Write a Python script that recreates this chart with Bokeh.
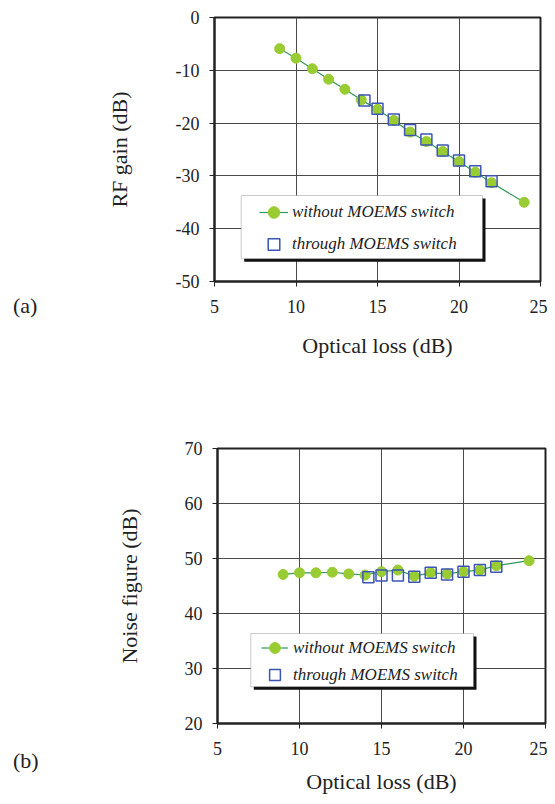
from bokeh.plotting import figure
from bokeh.layouts import column, row
from bokeh.models import (Range1d, SingleIntervalTicker, Legend, LegendItem,
                          BoxAnnotation, ColumnDataSource, Div,
                          CustomJSTickFormatter)
from bokeh.embed import file_html
from bokeh.resources import INLINE

# ---------------- data ----------------
x_without = [9, 10, 11, 12, 13, 14, 15, 16, 17, 18, 19, 20, 21, 22, 24]
x_through = [14.2, 15, 16, 17, 18, 19, 20, 21, 22]

gain_without = [-5.9, -7.7, -9.7, -11.7, -13.6, -15.6, -17.4, -19.5, -21.7,
                -23.5, -25.4, -27.3, -29.3, -31.3, -35.0]
gain_through = [-15.7, -17.3, -19.3, -21.3, -23.1, -25.2, -27.1, -29.1, -31.0]

nf_without = [47.1, 47.4, 47.4, 47.5, 47.2, 47.0, 47.6, 47.9, 46.8, 47.4,
              47.2, 47.6, 47.9, 48.7, 49.6]
nf_through = [46.6, 46.9, 46.9, 46.7, 47.4, 47.1, 47.6, 47.9, 48.5]

x_label = "Optical loss (dB)"
y_label_a = "RF gain (dB)"
y_label_b = "Noise figure (dB)"
series_names = ["without MOEMS switch", "through MOEMS switch"]
panel_tags = ["(a)", "(b)"]

FONT = "Liberation Serif"
LINE_COL = "#2f9a5c"
DOT_COL = "#99cc33"
SQ_COL = "#3a55b4"
GRID_COL = "#4a4a4a"
TXT_COL = "#222222"
DIV_W = 40


def style(p, ylab, y_standoff, x_title_standoff):
    p.xaxis.ticker = SingleIntervalTicker(interval=5)
    p.yaxis.ticker = SingleIntervalTicker(interval=10)
    for ax in (p.xaxis, p.yaxis):
        ax.formatter = CustomJSTickFormatter(code="return tick.toFixed(0);")
        ax.axis_line_color = "#222222"
        ax.axis_line_width = 2
        ax.major_tick_in = 0
        ax.major_tick_out = 5
        ax.major_tick_line_color = "#222222"
        ax.minor_tick_line_color = None
        ax.major_label_text_font = FONT
        ax.major_label_text_font_size = "18px"
        ax.major_label_text_color = TXT_COL
        ax.major_label_standoff = 13
        ax.axis_label_text_font = FONT
        ax.axis_label_text_font_size = "22px"
        ax.axis_label_text_font_style = "normal"
        ax.axis_label_text_color = TXT_COL
    p.yaxis.major_label_standoff = 10
    p.xaxis.axis_label = x_label
    p.yaxis.axis_label = ylab
    p.yaxis.axis_label_standoff = y_standoff
    p.xaxis.axis_label_standoff = x_title_standoff
    p.grid.grid_line_color = GRID_COL
    p.grid.grid_line_width = 1
    p.outline_line_color = "#222222"
    p.outline_line_width = 2
    p.background_fill_color = "white"
    p.border_fill_color = "white"


def add_series(p, yw, yt, legend_loc, box, glyph_w, glyph_h, spacing, standoff):
    src_w = ColumnDataSource(dict(x=x_without, y=yw))
    src_t = ColumnDataSource(dict(x=x_through, y=yt))
    ln = p.line("x", "y", source=src_w, line_color=LINE_COL, line_width=1.2)
    dots = p.scatter("x", "y", source=src_w, size=10, fill_color=DOT_COL,
                     line_color=DOT_COL)
    sq = p.scatter("x", "y", source=src_t, marker="square", size=11,
                   fill_color=None, line_color=SQ_COL, line_width=1.5)
    l, r, t, b = box
    p.add_layout(BoxAnnotation(left=l + 3, right=r + 3, top=t - 3, bottom=b - 3,
                               left_units="screen", right_units="screen",
                               top_units="screen", bottom_units="screen",
                               fill_color="#111111", fill_alpha=1,
                               line_color=None))
    p.add_layout(BoxAnnotation(left=l, right=r, top=t, bottom=b,
                               left_units="screen", right_units="screen",
                               top_units="screen", bottom_units="screen",
                               fill_color="white", fill_alpha=1,
                               line_color="#555555", line_width=1))
    leg = Legend(items=[LegendItem(label=series_names[0], renderers=[ln, dots]),
                        LegendItem(label=series_names[1], renderers=[sq])],
                 location=legend_loc, padding=0, margin=0,
                 border_line_color=None, background_fill_alpha=0,
                 glyph_width=glyph_w, glyph_height=glyph_h, spacing=spacing,
                 label_standoff=standoff, label_height=glyph_h,
                 label_text_font=FONT, label_text_font_size="17px",
                 label_text_font_style="italic", label_text_color=TXT_COL)
    p.add_layout(leg)


def tag_div(text, top, height):
    html = ('<div style="padding-top:%dpx;padding-left:13px;'
            'font-family:\'Liberation Serif\';font-size:22px;line-height:25px;'
            'color:%s;">%s</div>' % (top, TXT_COL, text))
    return Div(text=html, width=DIV_W, height=height, margin=0)


# ---------------- (a) ----------------
p1 = figure(width=547 - DIV_W, height=388, output_backend="svg",
            toolbar_location=None,
            x_range=Range1d(5, 25), y_range=Range1d(-50, 0),
            min_border_left=214 - DIV_W, min_border_right=7, min_border_top=17,
            min_border_bottom=107)
style(p1, y_label_a, 41, 17)
add_series(p1, gain_without, gain_through, legend_loc=(45, 22),
           box=(26.7, 268, 86, 22.7), glyph_w=29, glyph_h=30, spacing=2,
           standoff=4)

# ---------------- (b) ----------------
p2 = figure(width=547 - DIV_W, height=408, output_backend="svg",
            toolbar_location=None,
            x_range=Range1d(5, 25), y_range=Range1d(20, 70),
            min_border_left=217 - DIV_W, min_border_right=2, min_border_top=60,
            min_border_bottom=70)
style(p2, y_label_b, 40, 11)
add_series(p2, nf_without, nf_through, legend_loc=(44, 35),
           box=(33.3, 256, 90, 36.7), glyph_w=27, glyph_h=27, spacing=0,
           standoff=5)

layout = column(row(tag_div(panel_tags[0], 293, 388), p1, spacing=0),
                row(tag_div(panel_tags[1], 360, 408), p2, spacing=0),
                spacing=0)
open("out.html", "w").write(file_html(layout, INLINE))
